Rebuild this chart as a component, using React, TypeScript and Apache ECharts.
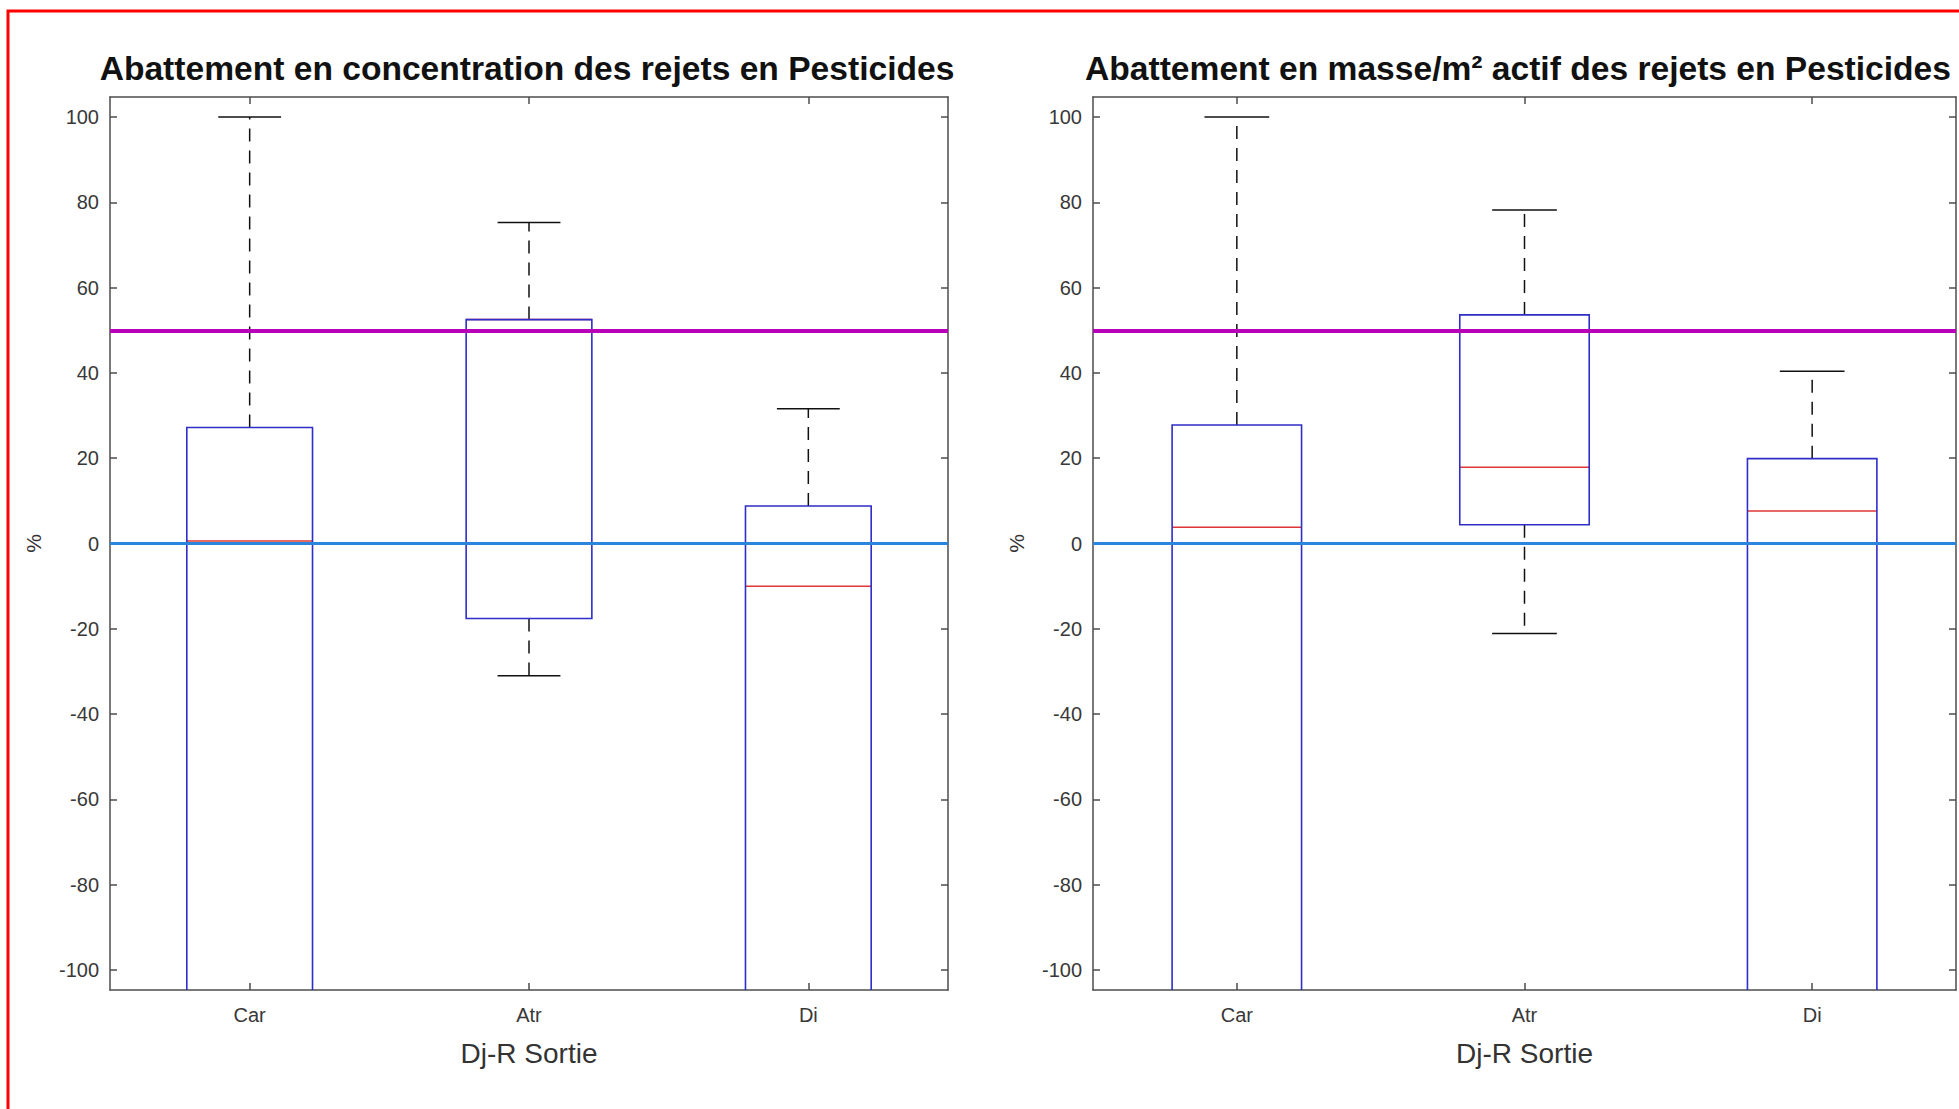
import React, { useEffect, useRef } from 'react';
import * as echarts from 'echarts';

const categories = ['Car', 'Atr', 'Di'];
const yTicks = [-100, -80, -60, -40, -20, 0, 20, 40, 60, 80, 100];

// Panel 1: concentration (lower parts of Car / Di lie below the visible range)
const concMin = [-260, -31.0, -240];
const concQ1 = [-150, -17.6, -140];
const concMedian = [0.6, 52.5, -10.0];
const concQ3 = [27.2, 52.5, 8.8];
const concMax = [100, 75.3, 31.6];

// Panel 2: masse/m² actif
const massMin = [-260, -21.1, -240];
const massQ1 = [-150, 4.4, -140];
const massMedian = [3.8, 17.9, 7.6];
const massQ3 = [27.8, 53.6, 19.9];
const massMax = [100, 78.2, 40.4];

const targetLine = 50;
const zeroLine = 0;

const panelTitles = [
  'Abattement en concentration des rejets en Pesticides',
  'Abattement en masse/m² actif des rejets en Pesticides',
];
const xName = 'Dj-R Sortie';
const yName = '%';

const FONT = '"Liberation Sans", Arial, Helvetica, sans-serif';
const AXIS_COLOR = '#4d4d4d';
const LABEL_COLOR = '#383838';

function buildRows(mins: number[], q1: number[], med: number[], q3: number[], maxs: number[]) {
  return categories.map((_, i) => [i, mins[i], q1[i], med[i], q3[i], maxs[i]]);
}

function renderBox(params: any, api: any) {
  const idx = api.value(0);
  const cs = params.coordSys;
  const top = cs.y;
  const bottom = cs.y + cs.height;
  const inside = (v: number) => v >= top - 0.5 && v <= bottom + 0.5;
  const clamp = (v: number) => Math.max(top, Math.min(bottom, v));
  const cx = api.coord([idx, 0])[0];
  const band = api.size([1, 0])[0];
  const half = band * 0.225;
  const capHalf = half / 2;
  const yMin = api.coord([idx, api.value(1)])[1];
  const yQ1 = api.coord([idx, api.value(2)])[1];
  const yMed = api.coord([idx, api.value(3)])[1];
  const yQ3 = api.coord([idx, api.value(4)])[1];
  const yMax = api.coord([idx, api.value(5)])[1];

  const dash = { stroke: '#111', lineWidth: 1.5, lineDash: [13, 9] };
  const solid = { stroke: '#111', lineWidth: 1.5 };
  const children: any[] = [];

  children.push({ type: 'line', silent: true, shape: { x1: cx, y1: clamp(yQ3), x2: cx, y2: clamp(yMax) }, style: dash });
  children.push({ type: 'line', silent: true, shape: { x1: cx, y1: clamp(yQ1), x2: cx, y2: clamp(yMin) }, style: dash });
  if (inside(yMax)) {
    children.push({ type: 'line', silent: true, shape: { x1: cx - capHalf, y1: yMax, x2: cx + capHalf, y2: yMax }, style: solid });
  }
  if (inside(yMin)) {
    children.push({ type: 'line', silent: true, shape: { x1: cx - capHalf, y1: yMin, x2: cx + capHalf, y2: yMin }, style: solid });
  }
  if (inside(yMed)) {
    children.push({ type: 'line', silent: true, shape: { x1: cx - half, y1: yMed, x2: cx + half, y2: yMed }, style: { stroke: '#e03535', lineWidth: 1.5 } });
  }
  const boxStyle = { stroke: '#2e2ec8', lineWidth: 1.6, fill: null };
  const tq3 = clamp(yQ3);
  const tq1 = clamp(yQ1);
  if (inside(yQ1)) {
    children.push({ type: 'polygon', silent: true, shape: { points: [[cx - half, tq3], [cx + half, tq3], [cx + half, tq1], [cx - half, tq1]] }, style: boxStyle });
  } else {
    children.push({ type: 'polyline', silent: true, shape: { points: [[cx - half, tq1], [cx - half, tq3], [cx + half, tq3], [cx + half, tq1]] }, style: boxStyle });
  }
  return { type: 'group', children };
}

export default function App() {
  const ref = useRef<HTMLDivElement>(null);

  useEffect(() => {
    if (!ref.current) return;
    const chart = echarts.init(ref.current, undefined, { renderer: 'svg' });

    const grids = [
      { left: 110, top: 97, width: 838, height: 893 },
      { left: 1093, top: 97, width: 863, height: 893 },
    ];
    const titleCenters = [527, 1518];

    const xAxes: any[] = [];
    const yAxes: any[] = [];
    grids.forEach((_, gi) => {
      const lineStyle = { color: AXIS_COLOR, width: 1.5 };
      xAxes.push({
        type: 'category',
        gridIndex: gi,
        data: categories,
        position: 'bottom',
        boundaryGap: true,
        axisLine: { show: true, onZero: false, lineStyle },
        axisTick: { show: true, inside: true, alignWithLabel: true, length: 7, lineStyle },
        axisLabel: { fontSize: 20, color: LABEL_COLOR, margin: 15, fontFamily: FONT },
        splitLine: { show: false },
        name: xName,
        nameLocation: 'middle',
        nameGap: 49,
        nameTextStyle: { fontSize: 28, color: '#333', fontFamily: FONT },
      });
      xAxes.push({
        type: 'category',
        gridIndex: gi,
        data: categories,
        position: 'top',
        boundaryGap: true,
        axisLine: { show: true, onZero: false, lineStyle },
        axisTick: { show: true, inside: true, alignWithLabel: true, length: 7, lineStyle },
        axisLabel: { show: false },
        splitLine: { show: false },
      });
      yAxes.push({
        type: 'value',
        gridIndex: gi,
        position: 'left',
        min: -104.7,
        max: 104.7,
        axisLine: { show: true, onZero: false, lineStyle },
        axisTick: { show: true, inside: true, length: 7, lineStyle, customValues: yTicks },
        axisLabel: { fontSize: 20, color: LABEL_COLOR, margin: 11, fontFamily: FONT, customValues: yTicks },
        splitLine: { show: false },
        name: yName,
        nameLocation: 'middle',
        nameGap: 66,
        nameTextStyle: { fontSize: 21, color: '#333', fontFamily: FONT },
      });
      yAxes.push({
        type: 'value',
        gridIndex: gi,
        position: 'right',
        min: -104.7,
        max: 104.7,
        axisLine: { show: true, onZero: false, lineStyle },
        axisTick: { show: true, inside: true, length: 7, lineStyle, customValues: yTicks },
        axisLabel: { show: false },
        splitLine: { show: false },
      });
    });

    const markLine = {
      silent: true,
      symbol: ['none', 'none'],
      label: { show: false },
      emphasis: { disabled: true },
      data: [
        { yAxis: targetLine, lineStyle: { color: '#b800b8', width: 4, type: 'solid' } },
        { yAxis: zeroLine, lineStyle: { color: '#2a86dc', width: 3, type: 'solid' } },
      ],
    };

    const datasets = [
      buildRows(concMin, concQ1, concMedian, concQ3, concMax),
      buildRows(massMin, massQ1, massMedian, massQ3, massMax),
    ];

    const series = datasets.map((rows, gi) => ({
      type: 'custom',
      xAxisIndex: gi * 2,
      yAxisIndex: gi * 2,
      data: rows,
      encode: { x: 0, y: [1, 2, 3, 4, 5] },
      renderItem: renderBox,
      silent: true,
      markLine,
    }));

    chart.setOption({
      animation: false,
      backgroundColor: '#ffffff',
      title: panelTitles.map((t, i) => ({
        text: t,
        left: titleCenters[i],
        top: 51,
        textAlign: 'center',
        padding: 0,
        textStyle: { fontSize: 33.6, fontWeight: 'bold', color: '#111', fontFamily: FONT },
      })),
      grid: grids.map((g) => ({ ...g, containLabel: false })),
      xAxis: xAxes,
      yAxis: yAxes,
      series,
      graphic: [
        {
          type: 'rect',
          silent: true,
          shape: { x: 8, y: 11, width: 2100, height: 1300 },
          style: { fill: 'none', stroke: '#ff0000', lineWidth: 3 },
          z: 100,
        },
      ],
    });

    return () => chart.dispose();
  }, []);

  return (
    <div
      ref={ref}
      style={{ position: 'fixed', left: 0, top: 0, width: 1959, height: 1109, background: '#fff' }}
    />
  );
}
